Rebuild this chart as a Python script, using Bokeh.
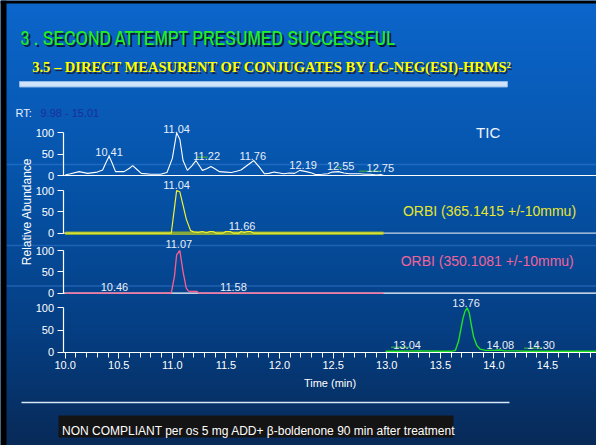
import numpy as np
from bokeh.plotting import figure
from bokeh.models import (Range1d, LinearAxis, FixedTicker, SingleIntervalTicker,
                          PrintfTickFormatter, Label)
from bokeh.core.properties import value
from bokeh.embed import file_html
from bokeh.resources import INLINE

# ---------------- chart values ----------------
rt_window = [9.98, 15.01]
y_ticks = [0, 50, 100]

tic_time = [10.00, 10.05, 10.13, 10.21, 10.30, 10.35, 10.38, 10.41, 10.44, 10.47,
            10.55, 10.60, 10.63, 10.67, 10.71, 10.80, 10.89, 10.95, 11.00, 11.04,
            11.07, 11.10, 11.14, 11.18, 11.22, 11.26, 11.28, 11.32, 11.36, 11.40,
            11.44, 11.50, 11.55, 11.60, 11.64, 11.70, 11.76, 11.81, 11.86, 11.90,
            11.95, 12.00, 12.04, 12.09, 12.14, 12.19, 12.25, 12.30, 12.34, 12.40,
            12.45, 12.49, 12.55, 12.60, 12.65, 12.70, 12.75, 12.80, 12.85, 12.90,
            12.95, 12.97]
tic_abund = [1, 4, 9, 5, 8, 13, 30, 45, 28, 9,
             9, 17, 23, 14, 5, 3, 3, 7, 40, 100,
             85, 35, 12, 22, 35, 20, 12, 16, 21, 15,
             9, 8, 7, 10, 13, 24, 35, 20, 4, 5,
             8, 6, 4, 6, 5, 12, 9, 6, 2, 3,
             4, 8, 9, 6, 4, 4, 4, 3, 3, 1,
             2, 0]

m365_time = [10.00, 10.99, 11.02, 11.04, 11.07, 11.10, 11.13, 11.17, 11.20, 11.24,
             11.28, 11.32, 11.35, 11.38, 11.41, 11.47, 11.50, 11.54, 11.57, 11.62,
             11.64, 11.67, 11.70, 11.73, 11.76, 12.97]
m365_abund = [0, 0, 60, 100, 97, 65, 33, 6, 3, 2,
              4, 1, 4, 4, 0, 0, 4, 4, 0, 0,
              4, 2, 4, 4, 0, 0]

m350_time = [10.00, 10.99, 11.02, 11.04, 11.07, 11.10, 11.13, 11.15, 11.18, 11.23, 11.25, 12.97]
m350_abund = [0, 0, 40, 90, 100, 50, 12, 5, 4, 4, 0, 0]

p4_time = [12.99, 13.10, 13.30, 13.50, 13.60, 13.64, 13.67, 13.69, 13.71, 13.73,
           13.75, 13.77, 13.79, 13.81, 13.84, 13.87, 13.92, 14.00, 14.05, 14.10,
           14.20, 14.30, 14.60, 15.01]
p4_abund = [2, 2, 3, 2, 2, 4, 25, 50, 75, 92,
            100, 88, 60, 35, 15, 7, 4, 4, 5, 3,
            3, 2, 2, 2]

# peak annotations: text, time position, height
tic_lbl_text = ["10.41", "11.04", "11.22", "11.76", "12.19", "12.55", "12.75"]
tic_lbl_time = [10.41, 11.04, 11.32, 11.75, 12.22, 12.57, 12.94]
tic_lbl_abund = [45, 100, 37, 37, 15, 12, 8]
m365_lbl_text = ["11.04", "11.66"]
m365_lbl_time = [11.04, 11.65]
m365_lbl_abund = [104, 7]
m350_lbl_text = ["11.07", "10.46", "11.58"]
m350_lbl_time = [11.06, 10.46, 11.57]
m350_lbl_abund = [106, 5, 5]
p4_lbl_text = ["13.76", "13.04", "14.08", "14.30"]
p4_lbl_time = [13.74, 13.19, 14.06, 14.44]
p4_lbl_abund = [102, 8, 8, 8]

# peak-detection baseline markers
tic_mark_t0 = [11.23, 12.54, 12.74]
tic_mark_t1 = [11.33, 12.58, 12.95]
tic_mark_y = [43, 19, 10]
p4_mark_t0 = [13.04, 14.28]
p4_mark_t1 = [13.21, 14.45]
p4_mark_y = [11, 9]

trace_names = ["TIC", "ORBI (365.1415 +/-10mmu)", "ORBI (350.1081 +/-10mmu)"]

# ---------------- layout ----------------
W, H = 596, 445
OX, OY = 0, 0
AXIS_PX = 62.5
PX_PER_MIN = 107.2
x_start = rt_window[0] - (AXIS_PX - OX) / PX_PER_MIN
x_end = rt_window[0] + (OX + W - AXIS_PX) / PX_PER_MIN

panel_names = ["tic", "m365", "m350", "p4"]
zero_px = [175.0, 232.7, 292.7, 351.7]
full_px = [132.3, 190.0, 250.0, 307.3]

FONT = "Liberation Sans"

p = figure(width=W, height=H, x_range=Range1d(x_start, x_end), y_range=Range1d(0, 1),
           x_axis_type=None, y_axis_type=None, toolbar_location=None,
           output_backend="svg", min_border=0, outline_line_color=None,
           background_fill_color="#06509F", border_fill_color="#06509F")

ranges = {"py": Range1d(OY + H, OY)}
for name, z, f in zip(panel_names, zero_px, full_px):
    s = (z - f) / 100.0
    ranges[name] = Range1d(-(OY + H - z) / s, (z - OY) / s)
p.extra_y_ranges = ranges
p.extra_x_ranges = {"px": Range1d(OX, OX + W)}

# background gradient of the slide
stops_pos = [0.0, 0.4, 0.75, 1.0]
stops_rgb = [(12, 102, 204), (6, 84, 170), (5, 62, 130), (8, 42, 88)]
frac_top = 1 - np.arange(H) / (H - 1)
rgba = np.zeros((H, 1, 4), dtype=np.uint8)
for c in range(3):
    rgba[:, 0, c] = np.interp(frac_top, stops_pos, [sc[c] for sc in stops_rgb]).astype(np.uint8)
rgba[:, :, 3] = 255
img = rgba.view(np.uint32).reshape(H, 1)
p.image_rgba(image=[img], x=x_start, y=0, dw=x_end - x_start, dh=1)

# faint template lines of the slide
p.segment(x0=[6, 6, 6], y0=[164, 245, 285.5], x1=[596, 596, 596], y1=[164, 245, 285.5],
          x_range_name="px", y_range_name="py", line_color="#3E86DC", line_alpha=0.45,
          line_width=1.5)


def label(text, x, y, **kw):
    kw.setdefault("text_font", FONT)
    kw.setdefault("text_baseline", "alphabetic")
    p.add_layout(Label(x=x, y=y, x_range_name="px", y_range_name="py", text=text, **kw))


# slide frame (black edge)
p.quad(left=[0], right=[6], top=[0], bottom=[445], x_range_name="px", y_range_name="py",
       fill_color="black", line_color=None)
p.quad(left=[0], right=[596], top=[0], bottom=[3], x_range_name="px", y_range_name="py",
       fill_color="black", line_color=None)

# titles
TITLE_FONT = "Archivo Narrow"
label("3 . SECOND ATTEMPT PRESUMED SUCCESSFUL", 22, 39.3, text_color="#0A1A36",
      text_font=TITLE_FONT, text_font_size="19.5px")
label("3 . SECOND ATTEMPT PRESUMED SUCCESSFUL", 20, 37.3, text_color="#22EE22",
      text_font=TITLE_FONT, text_font_size="19.5px")
sub = "3.5 \u2013 DIRECT MEASURENT OF CONJUGATES BY LC-NEG(ESI)-HRMS\u00b2"
label(sub, 33.2, 68.2, text_color="#1A2440", text_font="Liberation Serif",
      text_font_style="bold", text_font_size="14.5px")
label(sub, 31.7, 66.7, text_color="#FFFF00", text_font="Liberation Serif",
      text_font_style="bold", text_font_size="14.5px")
p.quad(left=[19], right=[507], top=[81], bottom=[86.5], x_range_name="px", y_range_name="py",
       fill_color="#CFE4FA", line_color="#8DB8E8", line_width=1)

label("RT:", 15, 112, text_color="#E6EEFF", text_font_size="11px")
label(f"{rt_window[0]:.2f} - {rt_window[1]:.2f}", 40, 112, text_color="#1C2E9C",
      text_font_size="11px")

label("Relative Abundance", 26.5, 211, angle=np.pi / 2, text_align="center",
      text_baseline="middle", text_color="white", text_font_size="12px")
label(trace_names[0], 487.7, 132, text_align="center", text_color="#F0F4FF", text_font_size="15px")
label(trace_names[1], 489, 210, text_align="center", text_color="#E6E62E", text_font_size="14px")
label(trace_names[2], 486.7, 260, text_align="center", text_color="#F0649A", text_font_size="14px")

# panel zero lines
p.line(x=rt_window, y=[0, 0], y_range_name="tic", line_color="white", line_width=1.2)
p.line(x=rt_window, y=[0, 0], y_range_name="m365", line_color="#C8D4E4", line_width=1.2)
p.line(x=rt_window, y=[0, 0], y_range_name="m350", line_color="white", line_width=1.2)

# traces
p.line(x=tic_time, y=tic_abund, y_range_name="tic", line_color="white", line_width=1.1)
p.segment(x0=tic_mark_t0, y0=tic_mark_y, x1=tic_mark_t1, y1=tic_mark_y, y_range_name="tic",
          line_color="#2E9A50", line_width=1.5)
p.line(x=[m365_time[0], m365_time[-1]], y=[0, 0], y_range_name="m365",
       line_color="#86A83C", line_width=3.5)
p.line(x=m365_time, y=m365_abund, y_range_name="m365", line_color="#F2F230", line_width=1.2)
p.line(x=m350_time, y=m350_abund, y_range_name="m350", line_color="#FF5C90", line_width=1.3)
p.line(x=p4_time, y=p4_abund, y_range_name="p4", line_color="#22E022", line_width=1.4)
p.segment(x0=p4_mark_t0, y0=p4_mark_y, x1=p4_mark_t1, y1=p4_mark_y, y_range_name="p4",
          line_color="#2E9A50", line_width=1.5)

for name, tx, ty, tt in [("tic", tic_lbl_time, tic_lbl_abund, tic_lbl_text),
                         ("m365", m365_lbl_time, m365_lbl_abund, m365_lbl_text),
                         ("m350", m350_lbl_time, m350_lbl_abund, m350_lbl_text),
                         ("p4", p4_lbl_time, p4_lbl_abund, p4_lbl_text)]:
    p.text(x=tx, y=ty, text=tt, y_range_name=name, text_align="center", text_baseline="bottom",
           text_color="#E8EEF8", text_font=value(FONT), text_font_size="11px")

# axes
x_axis = LinearAxis(y_range_name="p4", fixed_location=0, bounds=(rt_window[0], rt_window[1]),
                    ticker=SingleIntervalTicker(interval=0.5, num_minor_ticks=5),
                    formatter=PrintfTickFormatter(format="%.1f"),
                    axis_label="Time (min)", axis_line_color="white", axis_line_width=1.2,
                    major_tick_line_color="white", minor_tick_line_color="white",
                    major_tick_in=0, major_tick_out=6, minor_tick_in=0, minor_tick_out=5,
                    major_label_text_color="white", major_label_text_font=FONT,
                    major_label_text_font_size="11px", major_label_standoff=3,
                    axis_label_text_color="white", axis_label_text_font=FONT,
                    axis_label_text_font_size="11px", axis_label_text_font_style="normal",
                    axis_label_standoff=4)
p.add_layout(x_axis, "below")

for name in panel_names:
    ax = LinearAxis(y_range_name=name, fixed_location=rt_window[0],
                    bounds=(y_ticks[0], y_ticks[-1]),
                    ticker=FixedTicker(ticks=y_ticks, minor_ticks=[]),
                    axis_line_color="white", axis_line_width=1.2,
                    major_tick_line_color="white", major_tick_in=0, major_tick_out=6,
                    minor_tick_line_color=None,
                    major_label_text_color="white", major_label_text_font=FONT,
                    major_label_text_font_size="11px", major_label_standoff=3)
    p.add_layout(ax, "left")

# bottom of slide
p.segment(x0=[21], y0=[402], x1=[509], y1=[402], x_range_name="px", y_range_name="py",
          line_color="#D8E8F8", line_width=1.5)
p.quad(left=[58], right=[453], top=[415], bottom=[437], x_range_name="px", y_range_name="py",
       fill_color="#141414", line_color=None)
label("NON COMPLIANT per os 5 mg ADD+ \u03b2-boldenone 90 min after treatment", 61.5, 430,
      text_color="white", text_font_size="12px")

open("out.html", "w").write(file_html(p, INLINE))
